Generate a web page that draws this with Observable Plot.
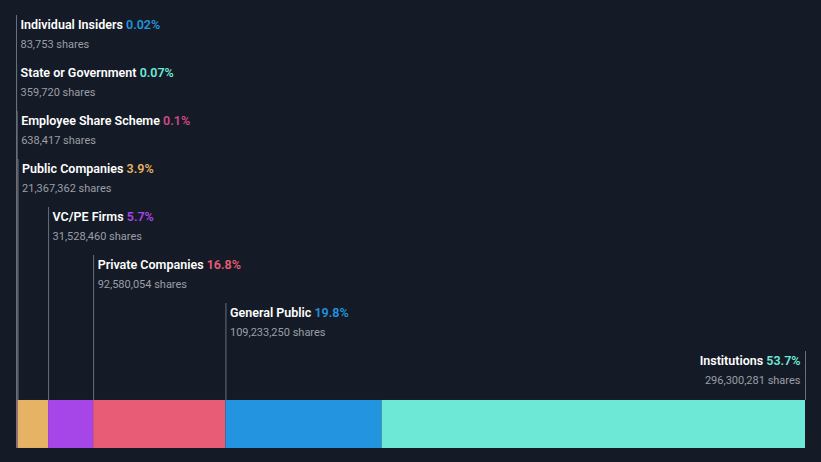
<!DOCTYPE html>
<html>
<head>
<meta charset="utf-8">
<script src="https://cdn.jsdelivr.net/npm/d3@7"></script>
<script src="https://cdn.jsdelivr.net/npm/@observablehq/plot@0.6"></script>
<style>
  html, body { margin: 0; padding: 0; background: #151b26; }
  #chart { width: 821px; height: 462px; }
</style>
</head>
<body>
<div id="chart"></div>
<script>
const categories = ["Individual Insiders", "State or Government", "Employee Share Scheme", "Public Companies", "VC/PE Firms", "Private Companies", "General Public", "Institutions"];
const shares = [83753, 359720, 638417, 21367362, 31528460, 92580054, 109233250, 296300281];
const percentLabels = ["0.02%", "0.07%", "0.1%", "3.9%", "5.7%", "16.8%", "19.8%", "53.7%"];
const colors = ["#2394df", "#6ee8d6", "#d1478a", "#e5b363", "#a646e8", "#e85d75", "#2394df", "#6ee8d6"];

const total = d3.sum(shares);
let acc = 0;
const data = categories.map((name, i) => {
  const x1 = acc; acc += shares[i];
  const last = i === categories.length - 1;
  return {
    name, row: i, x1, x2: acc, color: colors[i], pct: percentLabels[i],
    sharesText: d3.format(",")(shares[i]) + " shares",
    anchorX: last ? acc : x1,
    anchor: last ? "end" : "start"
  };
});

const BAR_TOP = 7.833, BAR_BOTTOM = 8.833, LINE_TOP = -0.1875;

const startData = data.filter(d => d.anchor === "start");
const endData = data.filter(d => d.anchor === "end");

const plot = Plot.plot({
  width: 821,
  height: 462,
  marginTop: 0, marginBottom: 0, marginLeft: 0, marginRight: 0,
  style: { background: "#151b26", fontFamily: "Roboto, sans-serif", overflow: "visible" },
  x: { domain: [0, total], range: [16, 805], axis: null },
  y: { domain: [0, 8], range: [24, 408], axis: null },
  marks: [
    Plot.rect(data, { x1: "x1", x2: "x2", y1: () => BAR_TOP, y2: () => BAR_BOTTOM, fill: "color" }),
    Plot.ruleX(data, { x: "anchorX", y1: d => d.row + LINE_TOP, y2: () => BAR_TOP, stroke: "#6a6f78", strokeWidth: 1 }),
    Plot.text(startData, { x: "anchorX", y: "row", text: "name", textAnchor: "start", dx: 4, fill: "#ffffff", fontSize: 12.5, fontWeight: 600, lineAnchor: "middle" }),
    Plot.text(endData, { x: "anchorX", y: "row", text: "name", textAnchor: "end", dx: -5, fill: "#ffffff", fontSize: 12.5, fontWeight: 600, lineAnchor: "middle" }),
    Plot.text(startData, { x: "anchorX", y: "row", text: "sharesText", textAnchor: "start", dx: 4, dy: 20, fill: "#9a9ea6", fontSize: 11, lineAnchor: "middle" }),
    Plot.text(endData, { x: "anchorX", y: "row", text: "sharesText", textAnchor: "end", dx: -5, dy: 20, fill: "#9a9ea6", fontSize: 11, lineAnchor: "middle" })
  ]
});

// add coloured percentage tspans to title texts
const textGroups = plot.querySelectorAll('g[aria-label="text"]');
[[textGroups[0], startData], [textGroups[1], endData]].forEach(([g, arr]) => {
  if (!g) return;
  g.querySelectorAll("text").forEach((el, i) => {
    const d = arr[i];
    d3.select(el).append("tspan").attr("fill", d.color).text(" " + d.pct);
  });
});

document.getElementById("chart").appendChild(plot);
</script>
</body>
</html>
